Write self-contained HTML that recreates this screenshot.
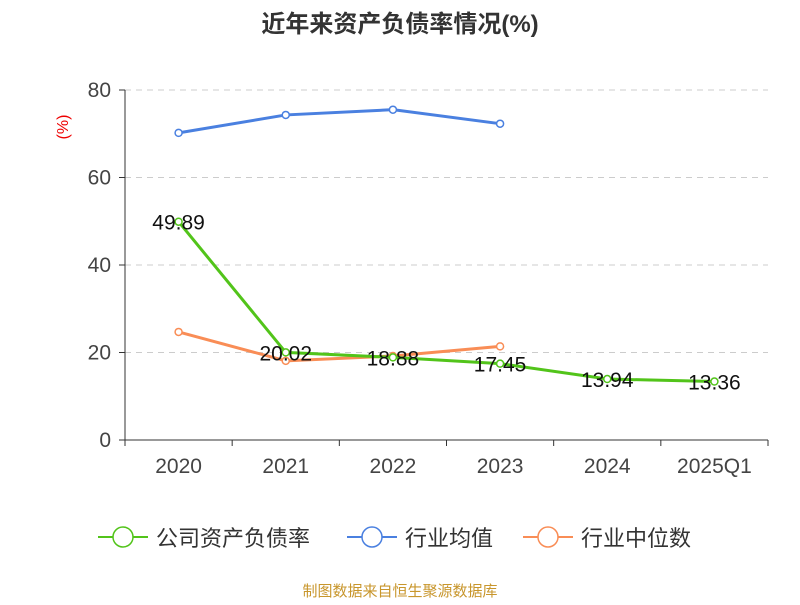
<!DOCTYPE html>
<html><head><meta charset="utf-8"><style>
body{margin:0;background:#fff;width:800px;height:600px;overflow:hidden}
text{font-family:"Liberation Sans","Noto Sans CJK SC",sans-serif}
</style></head><body>
<svg id="c" width="800" height="600"></svg>
<script>
const categories=["2020","2021","2022","2023","2024","2025Q1"];
const companyValues=[49.89,20.02,18.88,17.45,13.94,13.36];
const industryAvg=[70.2,74.3,75.5,72.3];
const industryMedian=[24.7,18.1,19.2,21.4];
const yTicks=[0,20,40,60,80];
const NS="http://www.w3.org/2000/svg";
const svg=document.getElementById('c');
const x0=125,x1=768,yb=440,yt=90;
const bw=(x1-x0)/categories.length;
function X(i){return x0+bw*(i+0.5);}
function Y(v){return yb-(v/80)*(yb-yt);}
function el(t,a,p){const e=document.createElementNS(NS,t);for(const k in a)e.setAttribute(k,a[k]);(p||svg).appendChild(e);return e;}
let t=el('text',{x:400,y:32,'text-anchor':'middle','font-size':24,'font-weight':'bold',fill:'#333'});t.textContent='近年来资产负债率情况(%)';


t=el('text',{x:0,y:0,'text-anchor':'middle','font-size':16,fill:'#e00',transform:'translate(68,127) rotate(-90)'});t.textContent='(%)';


yTicks.forEach(v=>{
 const y=Y(v);
 if(v>0){const g=el('line',{x1:x0,x2:x1,y1:y,y2:y,stroke:'#ccc','stroke-dasharray':'6,5'});
 
 }
 el('line',{x1:x0-6,x2:x0,y1:y,y2:y,stroke:'#333'});
 const l=el('text',{x:x0-14,y:y+7,'text-anchor':'end','font-size':21,fill:'#444'});l.textContent=v;
 
 
});
el('line',{x1:x0,x2:x0,y1:yt,y2:yb,stroke:'#333'});
el('line',{x1:x0,x2:x1,y1:yb,y2:yb,stroke:'#333'});
for(let i=0;i<=categories.length;i++){el('line',{x1:x0+bw*i,x2:x0+bw*i,y1:yb,y2:yb+6,stroke:'#333'});}
categories.forEach((c,i)=>{const l=el('text',{x:X(i),y:473,'text-anchor':'middle','font-size':21,fill:'#444'});l.textContent=c;
 
 });
function series(vals,color,name){
 const p=el('polyline',{points:vals.map((v,i)=>X(i)+','+Y(v)).join(' '),fill:'none',stroke:color,'stroke-width':3});
 
 
 vals.forEach((v,i)=>{const c=el('circle',{cx:X(i),cy:Y(v),r:3.5,fill:'#fff',stroke:color,'stroke-width':1.5});
  
  });
}
series(industryMedian,'#f98d56','industry-median');
series(industryAvg,'#4a80e0','industry-average');
series(companyValues,'#52c41a','company');
companyValues.forEach((v,i)=>{const l=el('text',{x:X(i),y:Y(v)+8,'text-anchor':'middle','font-size':21,fill:'#111'});l.textContent=v.toFixed(2);
 
 });
const legend=[['公司资产负债率','#52c41a',98],['行业均值','#4a80e0',347],['行业中位数','#f98d56',523]];
legend.forEach(([n,c,x])=>{
 const g=el('g',{});
 
 
 el('line',{x1:x,x2:x+50,y1:537,y2:537,stroke:c,'stroke-width':2},g);
 el('circle',{cx:x+25,cy:537,r:10,fill:'#fff',stroke:c,'stroke-width':1.5},g);
 const l=el('text',{x:x+58,y:546,'font-size':22,fill:'#333'},g);l.textContent=n;
});
t=el('text',{x:400,y:596,'text-anchor':'middle','font-size':15,fill:'#c8962c'});t.textContent='制图数据来自恒生聚源数据库';


</script>
</body></html>
